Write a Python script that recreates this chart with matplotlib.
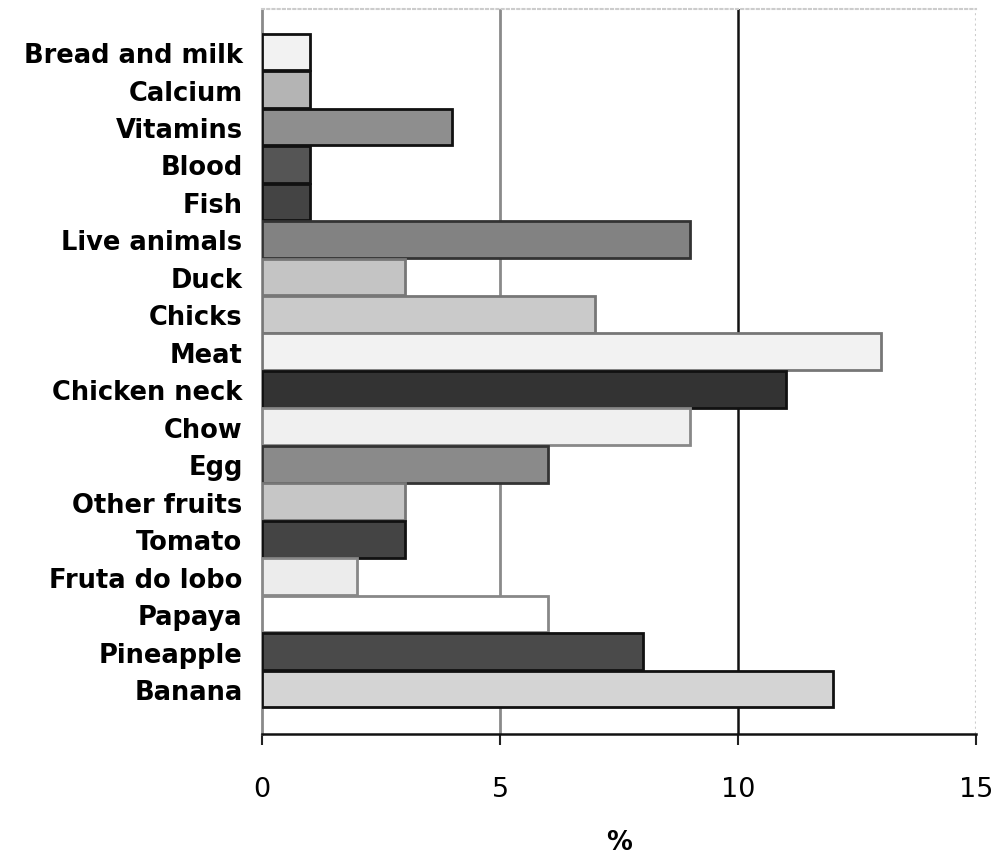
import numpy as np
import matplotlib
matplotlib.use("Agg")
from matplotlib import pyplot as plt

plt.rcParams['font.family'] = ['DejaVu Sans']
plt.rcParams['font.weight'] = 'bold'

# data (top to bottom)
foods = ['Bread and milk', 'Calcium', 'Vitamins', 'Blood', 'Fish', 'Live animals',
         'Duck', 'Chicks', 'Meat', 'Chicken neck', 'Chow', 'Egg', 'Other fruits',
         'Tomato', 'Fruta do lobo', 'Papaya', 'Pineapple', 'Banana']
percent = [1, 1, 4, 1, 1, 9, 3, 7, 13, 11, 9, 6, 3, 3, 2, 6, 8, 12]
xticks = [0, 5, 10, 15]

# grey shade and edge colour per bar
fills = ['#f2f2f2', '#b4b4b4', '#8e8e8e', '#555555', '#444444', '#828282',
         '#c4c4c4', '#cacaca', '#f2f2f2', '#333333', '#f0f0f0', '#8a8a8a',
         '#c6c6c6', '#444444', '#ececec', '#ffffff', '#4a4a4a', '#d4d4d4']
edges = ['#111111', '#111111', '#111111', '#111111', '#111111', '#333333',
         '#777777', '#777777', '#777777', '#111111', '#888888', '#333333',
         '#777777', '#111111', '#888888', '#888888', '#111111', '#111111']

fig = plt.figure(figsize=(9.97, 8.62), dpi=100)
ax = fig.add_axes([0.2628, 0.1473, 0.7162, 0.8411])

y = np.arange(len(foods))
ax.barh(y, percent, height=0.98, color=fills, edgecolor=edges, linewidth=2, zorder=3)

# vertical reference lines
ax.axvline(5, color='#8a8a8a', lw=2, zorder=1)
ax.axvline(10, color='#111111', lw=1.8, zorder=1)
ax.axvline(15, color='#cccccc', lw=1.5, ls=(0, (1, 1.5)), zorder=1)

ax.set_xlim(0, 15)
ax.set_ylim(18.2, -1.15)
ax.set_yticks(y)
ax.set_yticklabels(foods, fontsize=18.5)
ax.tick_params(axis='y', length=0, pad=14)
ax.set_xticks(xticks)
ax.set_xticklabels([str(t) for t in xticks], fontsize=19.5, fontweight='normal')
ax.tick_params(axis='x', length=8, width=1.5, pad=22, color='#222222')
ax.set_xlabel('%', fontsize=18.5, fontweight='bold', labelpad=20)

ax.spines['right'].set_visible(False)
ax.spines['top'].set_color('#cccccc')
ax.spines['top'].set_linestyle((0, (1, 1.5)))
ax.spines['top'].set_linewidth(1.5)
ax.spines['left'].set_color('#8a8a8a')
ax.spines['left'].set_linewidth(2)
ax.spines['bottom'].set_color('#111111')
ax.spines['bottom'].set_linewidth(1.8)

fig.savefig('out.png', dpi=100)
